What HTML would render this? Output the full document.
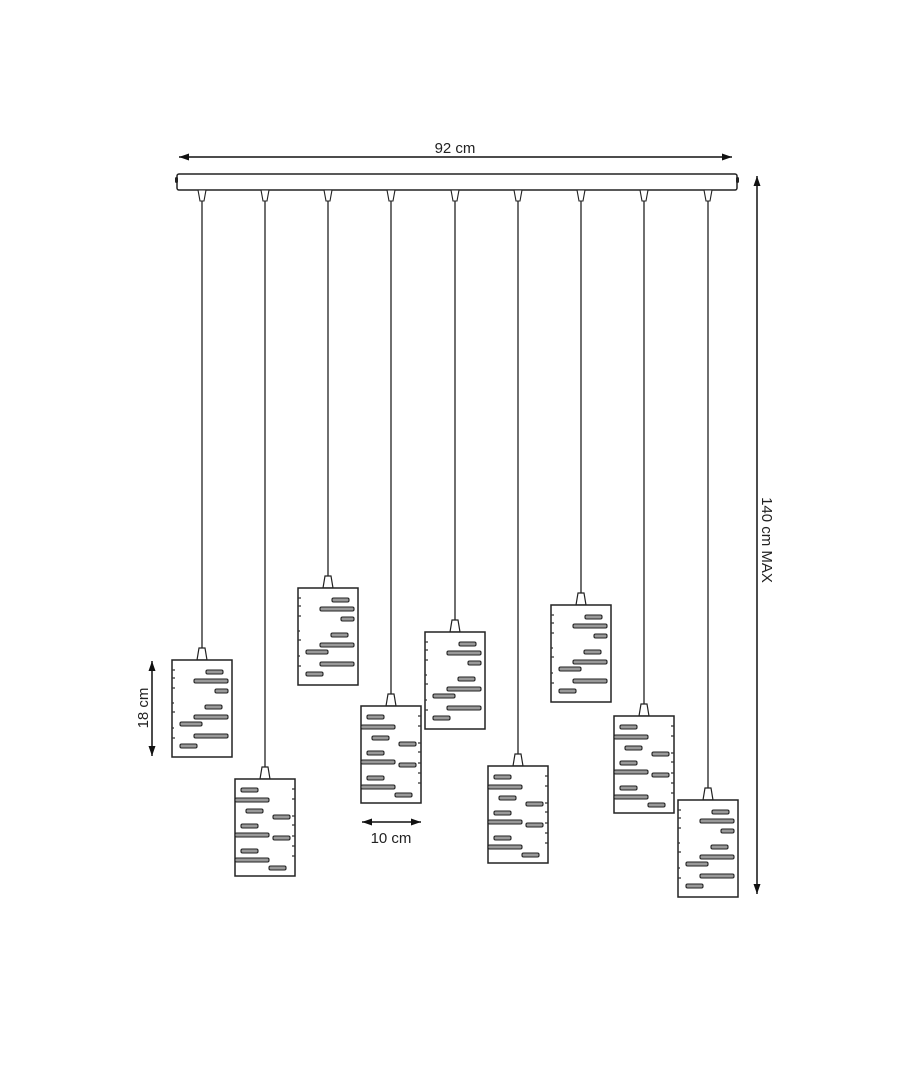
<!DOCTYPE html>
<html><head><style>body{margin:0;background:#fff}svg{display:block}</style></head><body>
<svg width="910" height="1080" viewBox="0 0 910 1080" xmlns="http://www.w3.org/2000/svg">
<defs>
<marker id="ah" viewBox="0 0 10 10" refX="10" refY="5" markerWidth="10" markerHeight="10" markerUnits="userSpaceOnUse" orient="auto-start-reverse"><path d="M0,1.5 L10,5 L0,8.5 z" fill="#111"/></marker>
<g id="lampA">
<path d="M-3,-12 L3,-12 L5,0 L-5,0 z" fill="#fff" stroke="#222" stroke-width="1.2"/>
<rect x="-30" y="0" width="60" height="97" fill="#fff" stroke="#222" stroke-width="1.5"/>
<g fill="#999" stroke="#222" stroke-width="1.1">
<rect x="4" y="10" width="17" height="4" rx="1.5"/>
<rect x="-8" y="19" width="34" height="4" rx="1.5"/>
<rect x="13" y="29" width="13" height="4" rx="1.5"/>
<rect x="3" y="45" width="17" height="4" rx="1.5"/>
<rect x="-8" y="55" width="34" height="4" rx="1.5"/>
<rect x="-22" y="62" width="22" height="4" rx="1.5"/>
<rect x="-8" y="74" width="34" height="4" rx="1.5"/>
<rect x="-22" y="84" width="17" height="4" rx="1.5"/>
</g>
<g fill="none" stroke="#333" stroke-width="1.2"><path d="M-30,10 h3 M-30,18 h3 M-30,28 h3 M-30,43 h2 M-30,52 h3 M-30,68 h2 M-30,78 h3"/></g>
</g>
<g id="lampB">
<path d="M-3,-12 L3,-12 L5,0 L-5,0 z" fill="#fff" stroke="#222" stroke-width="1.2"/>
<rect x="-30" y="0" width="60" height="97" fill="#fff" stroke="#222" stroke-width="1.5"/>
<g fill="#999" stroke="#222" stroke-width="1.1">
<rect x="-24" y="9" width="17" height="4" rx="1.5"/>
<rect x="-30" y="19" width="34" height="4" rx="1.5"/>
<rect x="-19" y="30" width="17" height="4" rx="1.5"/>
<rect x="8" y="36" width="17" height="4" rx="1.5"/>
<rect x="-24" y="45" width="17" height="4" rx="1.5"/>
<rect x="-30" y="54" width="34" height="4" rx="1.5"/>
<rect x="8" y="57" width="17" height="4" rx="1.5"/>
<rect x="-24" y="70" width="17" height="4" rx="1.5"/>
<rect x="-30" y="79" width="34" height="4" rx="1.5"/>
<rect x="4" y="87" width="17" height="4" rx="1.5"/>
</g>
<g fill="none" stroke="#333" stroke-width="1.2"><path d="M30,10 h-3 M30,20 h-3 M30,37 h-3 M30,46 h-3 M30,57 h-3 M30,67 h-3 M30,77 h-3"/></g>
</g>
</defs>
<line x1="179" y1="157" x2="732" y2="157" stroke="#111" stroke-width="1.5" marker-start="url(#ah)" marker-end="url(#ah)"/>
<text x="455" y="153" font-family="Liberation Sans, sans-serif" font-size="15" text-anchor="middle" fill="#222">92 cm</text>
<rect x="177" y="174" width="560" height="16" rx="2" fill="#fff" stroke="#222" stroke-width="1.5"/>
<rect x="175" y="177" width="3" height="6" rx="1.5" fill="#222"/><rect x="736" y="177" width="3" height="6" rx="1.5" fill="#222"/>
<g stroke="#222" stroke-width="1.3" fill="#fff">
<line x1="202" y1="190" x2="202" y2="648"/><line x1="265" y1="190" x2="265" y2="767"/>
<line x1="328" y1="190" x2="328" y2="576"/><line x1="391" y1="190" x2="391" y2="694"/>
<line x1="455" y1="190" x2="455" y2="620"/><line x1="518" y1="190" x2="518" y2="754"/>
<line x1="581" y1="190" x2="581" y2="593"/><line x1="644" y1="190" x2="644" y2="704"/>
<line x1="708" y1="190" x2="708" y2="788"/>
<g stroke-width="1.1">
<path d="M198,190 L206,190 L204,201 L200,201 z"/><path d="M261,190 L269,190 L267,201 L263,201 z"/>
<path d="M324,190 L332,190 L330,201 L326,201 z"/><path d="M387,190 L395,190 L393,201 L389,201 z"/>
<path d="M451,190 L459,190 L457,201 L453,201 z"/><path d="M514,190 L522,190 L520,201 L516,201 z"/>
<path d="M577,190 L585,190 L583,201 L579,201 z"/><path d="M640,190 L648,190 L646,201 L642,201 z"/>
<path d="M704,190 L712,190 L710,201 L706,201 z"/>
</g>
</g>
<use href="#lampA" x="202" y="660"/>
<use href="#lampB" x="265" y="779"/>
<use href="#lampA" x="328" y="588"/>
<use href="#lampB" x="391" y="706"/>
<use href="#lampA" x="455" y="632"/>
<use href="#lampB" x="518" y="766"/>
<use href="#lampA" x="581" y="605"/>
<use href="#lampB" x="644" y="716"/>
<use href="#lampA" x="708" y="800"/>
<line x1="757" y1="176" x2="757" y2="894" stroke="#111" stroke-width="1.5" marker-start="url(#ah)" marker-end="url(#ah)"/>
<text transform="translate(762,540) rotate(90)" font-family="Liberation Sans, sans-serif" font-size="15" text-anchor="middle" fill="#222">140 cm  MAX</text>
<line x1="152" y1="661" x2="152" y2="756" stroke="#111" stroke-width="1.5" marker-start="url(#ah)" marker-end="url(#ah)"/>
<text transform="translate(148,708) rotate(-90)" font-family="Liberation Sans, sans-serif" font-size="15" text-anchor="middle" fill="#222">18 cm</text>
<line x1="362" y1="822" x2="421" y2="822" stroke="#111" stroke-width="1.5" marker-start="url(#ah)" marker-end="url(#ah)"/>
<text x="391" y="843" font-family="Liberation Sans, sans-serif" font-size="15" text-anchor="middle" fill="#222">10 cm</text>
</svg>
</body></html>
